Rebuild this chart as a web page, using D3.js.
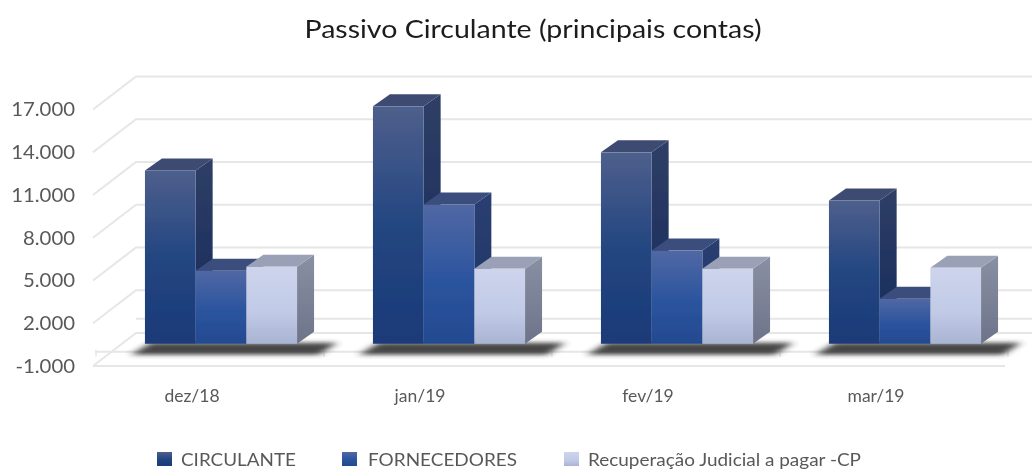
<!DOCTYPE html>
<html><head><meta charset="utf-8">
<script src="https://cdn.jsdelivr.net/npm/d3@7"></script>
<style>html,body{margin:0;background:#fff}svg{display:block}text{font-family:Lato,"Open Sans",sans-serif}</style>
</head><body><svg id="c" width="1032" height="470"></svg>
<script>
const categories=["dez/18","jan/19","fev/19","mar/19"];
const seriesNames=["CIRCULANTE","FORNECEDORES","Recuperação Judicial a pagar -CP"];
const circulante=[12160,16660,13430,10050];
const fornecedores=[5130,9770,6540,3160];
const recuperacao=[5410,5270,5270,5340];
const tickValues=[-1000,2000,5000,8000,11000,14000,17000];
const seriesValues=[circulante,fornecedores,recuperacao];
const title="Passivo Circulante (principais contas)";

const svg=d3.select("#c");
const y=d3.scaleLinear().domain([-1000,17000]).range([366,109.5]);
const x=d3.scaleBand().domain(categories).range([93,1005]);
const depth={dx:43,dy:-33};
const bar={front:8/33,back:20/33};
const barW=50.7, groupW=barW*3;
const fmt=d3.formatLocale({decimal:",",thousands:".",grouping:[3],minus:"-",currency:["",""]}).format(",d");
const stretch=(sel,w)=>sel.each(function(){const n=d3.select(this);n.attr("textLength",w).attr("lengthAdjust","spacingAndGlyphs");});

const defs=svg.append("defs");
const grad=(id,stops)=>{const g=defs.append("linearGradient").attr("id",id).attr("x1",0).attr("y1",0).attr("x2",0).attr("y2",1);
  stops.forEach(([o,c])=>g.append("stop").attr("offset",o).attr("stop-color",c));};
grad("f0",[[0,"#4e5f8c"],[.5,"#234681"],[1,"#1b3a78"]]);
grad("f1",[[0,"#5068a4"],[.55,"#2b549e"],[1,"#234a90"]]);
grad("f2",[[0,"#ced4ec"],[.6,"#c0cae6"],[1,"#a9b3d3"]]);
grad("s0",[[0,"#2f3f66"],[1,"#14295a"]]);
grad("s1",[[0,"#2b3f70"],[1,"#1b3468"]]);
grad("s2",[[0,"#8a90a3"],[1,"#6d7389"]]);
defs.append("filter").attr("id","blur").attr("x","-15%").attr("y","-150%").attr("width","130%").attr("height","400%")
  .append("feGaussianBlur").attr("stdDeviation","4 2");
defs.append("filter").attr("id","soft").attr("filterUnits","userSpaceOnUse").attr("x",-200).attr("y",-200).attr("width",1500).attr("height",900)
  .append("feGaussianBlur").attr("stdDeviation",0.5);
const tops=["#3d4b72","#3b4d7c","#9aa1b6"];

// title
svg.append("text").attr("x",533).attr("y",38).attr("text-anchor","middle").attr("font-size",25.5).attr("fill","#1a1a1a").attr("filter","url(#soft)").text(title).call(stretch,457);

// grid
const x0Grid=x.range()[0];
const grid=svg.append("g").attr("fill","none").attr("stroke","#e6e6e6").attr("stroke-width",2).attr("filter","url(#soft)");
tickValues.forEach(v=>{
  grid.append("path").attr("d",d3.line()([[x0Grid,y(v)],[x0Grid+depth.dx,y(v)+depth.dy],[1032,y(v)+depth.dy]]));
});
grid.append("line").attr("x1",x0Grid).attr("x2",x.range()[1]).attr("y1",y(-1000)).attr("y2",y(-1000));
grid.append("line").attr("x1",x0Grid+2).attr("x2",x.range()[1]).attr("y1",y(0)).attr("y2",y(0));
grid.append("line").attr("x1",x0Grid+depth.dx).attr("x2",1032).attr("y1",y(0)+depth.dy).attr("y2",y(0)+depth.dy);
categories.concat([null]).forEach((c,i)=>{const tx=x0Grid+3+i*x.step();
  grid.append("line").attr("x1",tx).attr("x2",tx).attr("y1",y(0)-2).attr("y2",y(0)+5).attr("stroke-width",1.4);});

// y axis
const ya=svg.append("g").attr("transform","translate(75,0)").attr("filter","url(#soft)").call(d3.axisLeft(y).tickValues(tickValues).tickSize(0).tickPadding(0).tickFormat(fmt));
ya.select(".domain").remove();
ya.selectAll("text").attr("font-size",18.5).attr("fill","#595959").attr("font-family","Lato").attr("dy","0.34em").attr("dx",0)
  .each(function(){const n=d3.select(this);n.attr("textLength",this.getComputedTextLength()*1.1).attr("lengthAdjust","spacingAndGlyphs");});

// bars
const plot=svg.append("g");
categories.forEach((c,i)=>{
  const x0=x(c)+x.bandwidth()/2-groupW/2+14;
  const base=y(0)+depth.dy*bar.front;
  const ddx=17, ddy=depth.dy*(bar.back-bar.front);
  plot.append("path").attr("filter","url(#blur)").attr("fill","#333").attr("opacity",.9)
    .attr("d",d3.line()([[x0-14,base+11],[x0+groupW+22,base+11],[x0+groupW+40,base-1],[x0+6,base-1]]));
  const g=plot.append("g").attr("filter","url(#soft)");
  seriesValues.forEach((vals,s)=>{
    const left=x0+s*barW, top=base-(y(0)-y(vals[i])), right=left+barW;
    g.append("path").attr("fill",`url(#s${s})`).attr("d",d3.line()([[right,top],[right+ddx,top+ddy],[right+ddx,base+ddy],[right,base]]));
  });
  seriesValues.forEach((vals,s)=>{
    const left=x0+s*barW, top=base-(y(0)-y(vals[i])), right=left+barW;
    g.append("path").attr("fill",tops[s]).attr("d",d3.line()([[left,top],[right,top],[right+ddx,top+ddy],[left+ddx,top+ddy]]));
    g.append("rect").attr("x",left).attr("y",top).attr("width",barW).attr("height",base-top).attr("fill",`url(#f${s})`);
  });
});

// category labels
const xa=svg.append("g").attr("transform","translate(-15,402)").attr("filter","url(#soft)").call(d3.axisBottom(x).tickSize(0).tickPadding(0));
xa.select(".domain").remove();
xa.selectAll("text").attr("font-size",17.5).attr("fill","#595959").attr("font-family","Lato").attr("dy",0).attr("y",0);

// legend
const legX=[157,342,564], legT=[181,368,588], legW=[115,149,273];
seriesNames.forEach((n,s)=>{
  svg.append("rect").attr("x",legX[s]).attr("y",452).attr("width",15).attr("height",14).attr("fill",`url(#f${s})`).attr("filter","url(#soft)");
  svg.append("text").attr("x",legT[s]).attr("y",466).attr("font-size",18).attr("fill","#595959").attr("filter","url(#soft)").text(n).call(stretch,legW[s]);
});
</script></body></html>
